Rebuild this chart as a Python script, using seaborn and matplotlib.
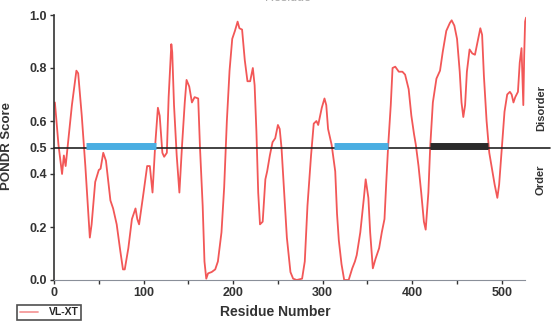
# Імпортуємо необхідні бібліотеки
import pandas as pd
import matplotlib
matplotlib.use('Agg')
import matplotlib.pyplot as plt
import seaborn as sns

# Дані (номер залишку та оцінка PONDR VL-XT)
residue = [1, 5, 9, 11, 13, 16, 20, 25, 27, 31, 35, 40, 42, 46, 50, 52, 55, 58, 63, 66,
           70, 74, 77, 79, 83, 87, 91, 93, 95, 100, 104, 107, 110, 113, 116, 118, 121, 123, 126, 128,
           131, 132, 134, 137, 140, 143, 146, 148, 151, 154, 157, 161, 163, 166, 168, 170, 172, 176, 180, 183,
           187, 190, 193, 196, 199, 202, 205, 207, 210, 213, 216, 219, 222, 224, 226, 228, 230, 233, 236, 238,
           241, 244, 247, 250, 252, 254, 257, 260, 264, 267, 271, 277, 280, 283, 287, 290, 293, 295, 299, 302,
           304, 306, 310, 314, 316, 318, 321, 324, 329, 333, 336, 338, 342, 346, 348, 351, 353, 356, 359, 363,
           366, 369, 371, 373, 376, 378, 381, 385, 389, 392, 396, 399, 402, 404, 407, 410, 413, 415, 418, 420,
           423, 427, 431, 434, 438, 442, 444, 447, 450, 453, 455, 457, 459, 461, 464, 467, 470, 473, 476, 478,
           480, 483, 486, 489, 492, 495, 497, 500, 503, 506, 509, 511, 513, 515, 518, 520, 522, 524, 525, 526,
           527]
score = [0.67, 0.51, 0.40, 0.47, 0.43, 0.53, 0.66, 0.79, 0.78, 0.62, 0.43, 0.16, 0.21, 0.37, 0.415, 0.42, 0.48, 0.45, 0.30, 0.27,
         0.21, 0.11, 0.04, 0.04, 0.12, 0.23, 0.27, 0.23, 0.21, 0.33, 0.43, 0.43, 0.33, 0.51, 0.65, 0.62, 0.48, 0.465, 0.48, 0.69,
         0.89, 0.86, 0.66, 0.47, 0.33, 0.51, 0.67, 0.755, 0.73, 0.67, 0.69, 0.685, 0.50, 0.28, 0.07, 0.005, 0.025, 0.03, 0.04, 0.07,
         0.18, 0.35, 0.60, 0.79, 0.91, 0.94, 0.975, 0.95, 0.945, 0.83, 0.75, 0.75, 0.80, 0.735, 0.56, 0.33, 0.21, 0.22, 0.38, 0.41,
         0.47, 0.52, 0.535, 0.585, 0.57, 0.50, 0.33, 0.16, 0.03, 0.005, 0.0, 0.005, 0.07, 0.28, 0.47, 0.59, 0.60, 0.585, 0.65, 0.685,
         0.66, 0.57, 0.51, 0.41, 0.25, 0.15, 0.06, 0.0, 0.0, 0.044, 0.07, 0.094, 0.18, 0.31, 0.38, 0.31, 0.18, 0.044, 0.08, 0.12,
         0.18, 0.23, 0.37, 0.50, 0.66, 0.80, 0.805, 0.786, 0.786, 0.775, 0.72, 0.62, 0.55, 0.51, 0.43, 0.33, 0.22, 0.19, 0.33, 0.50,
         0.67, 0.76, 0.79, 0.86, 0.94, 0.97, 0.98, 0.96, 0.91, 0.786, 0.67, 0.615, 0.66, 0.786, 0.87, 0.855, 0.85, 0.90, 0.95, 0.925,
         0.77, 0.60, 0.48, 0.42, 0.36, 0.31, 0.36, 0.50, 0.635, 0.70, 0.71, 0.70, 0.67, 0.69, 0.71, 0.82, 0.875, 0.66, 0.85, 0.975,
         0.99]

# Виділені ділянки (початок і кінець)
region_start = [36, 313, 420]
region_end = [114, 373, 485]

y_ticks = [0.0, 0.2, 0.4, 0.5, 0.6, 0.8, 1.0]
x_ticks = [0, 100, 200, 300, 400, 500]

df = pd.DataFrame({'residue': residue, 'score': score})

# Стиль
sns.set_style('ticks')
plt.rcParams['font.family'] = ['Liberation Sans', 'DejaVu Sans']

fig = plt.figure(figsize=(5.51, 3.24), dpi=100)
ax = fig.add_axes([54 / 551, 1 - 280 / 324, 472 / 551, 265 / 324])

# Основна крива
sns.lineplot(data=df, x='residue', y='score', color='#f25757', linewidth=1.3,
             label='VL-XT', ax=ax, sort=False)

# Порогова лінія 0.5
ax.axhline(0.5, xmin=0, xmax=(550 - 54) / 472, color='#222222', lw=1.2,
           clip_on=False, zorder=3)

# Смуги ділянок
region_colors = ['#4aaee2', '#4aaee2', '#2a2a2a']
for s, e, c in zip(region_start, region_end, region_colors):
    ax.hlines(0.507, s, e, colors=c, lw=5, zorder=4)

ax.set_xlim(0, 527)
ax.set_ylim(0, 1)
ax.set_yticks(y_ticks)
ax.set_yticklabels([f'{v:.1f}' for v in y_ticks])
ax.set_xticks(x_ticks)
ax.set_xticks([50, 150, 250, 350, 450], minor=True)
ax.tick_params(axis='both', which='both', length=3, width=1, colors='#333333',
               labelsize=9, pad=2)
for lab in ax.get_xticklabels() + ax.get_yticklabels():
    lab.set_fontweight('bold')

sns.despine(ax=ax)
ax.spines['left'].set_color('#333333')
ax.spines['left'].set_linewidth(1.2)
ax.spines['bottom'].set_color('#8a8f99')
ax.spines['bottom'].set_bounds(0, 526)

ax.set_xlabel('Residue Number', fontsize=10, fontweight='bold', color='#333333')
ax.set_ylabel('PONDR Score', fontsize=9.5, fontweight='bold', color='#333333')
ax.xaxis.set_label_coords((275 - 54) / 472, (280 - 305) / 265)
ax.yaxis.set_label_coords((13 - 54) / 472, (280 - 146) / 265)

# Підписи справа
ax.text((541 - 54) / 472, 0.65, 'Disorder', rotation=90, ha='center', va='center',
        fontsize=8, fontweight='bold', color='#333333', transform=ax.transAxes)
ax.text((541 - 54) / 472, 0.377, 'Order', rotation=90, ha='center', va='center',
        fontsize=8, fontweight='bold', color='#333333', transform=ax.transAxes)

# Обрізаний заголовок зверху
fig.text(288 / 551, 1 - 4 / 324, 'Residue', ha='center', va='bottom',
         fontsize=9, color='#aaaaaa')

# Легенда
leg = ax.legend(loc='lower left', bbox_to_anchor=(17 / 551, 1 - 320 / 324),
                bbox_transform=fig.transFigure, frameon=True, fancybox=False,
                edgecolor='#222222', handlelength=1.8, borderpad=0.25,
                borderaxespad=0, handletextpad=1.0,
                prop={'size': 7.5, 'weight': 'bold'})
leg.get_frame().set_linewidth(1.2)
leg.get_lines()[0].set_color('#f59a9a')

plt.savefig('out.png', dpi=100)
